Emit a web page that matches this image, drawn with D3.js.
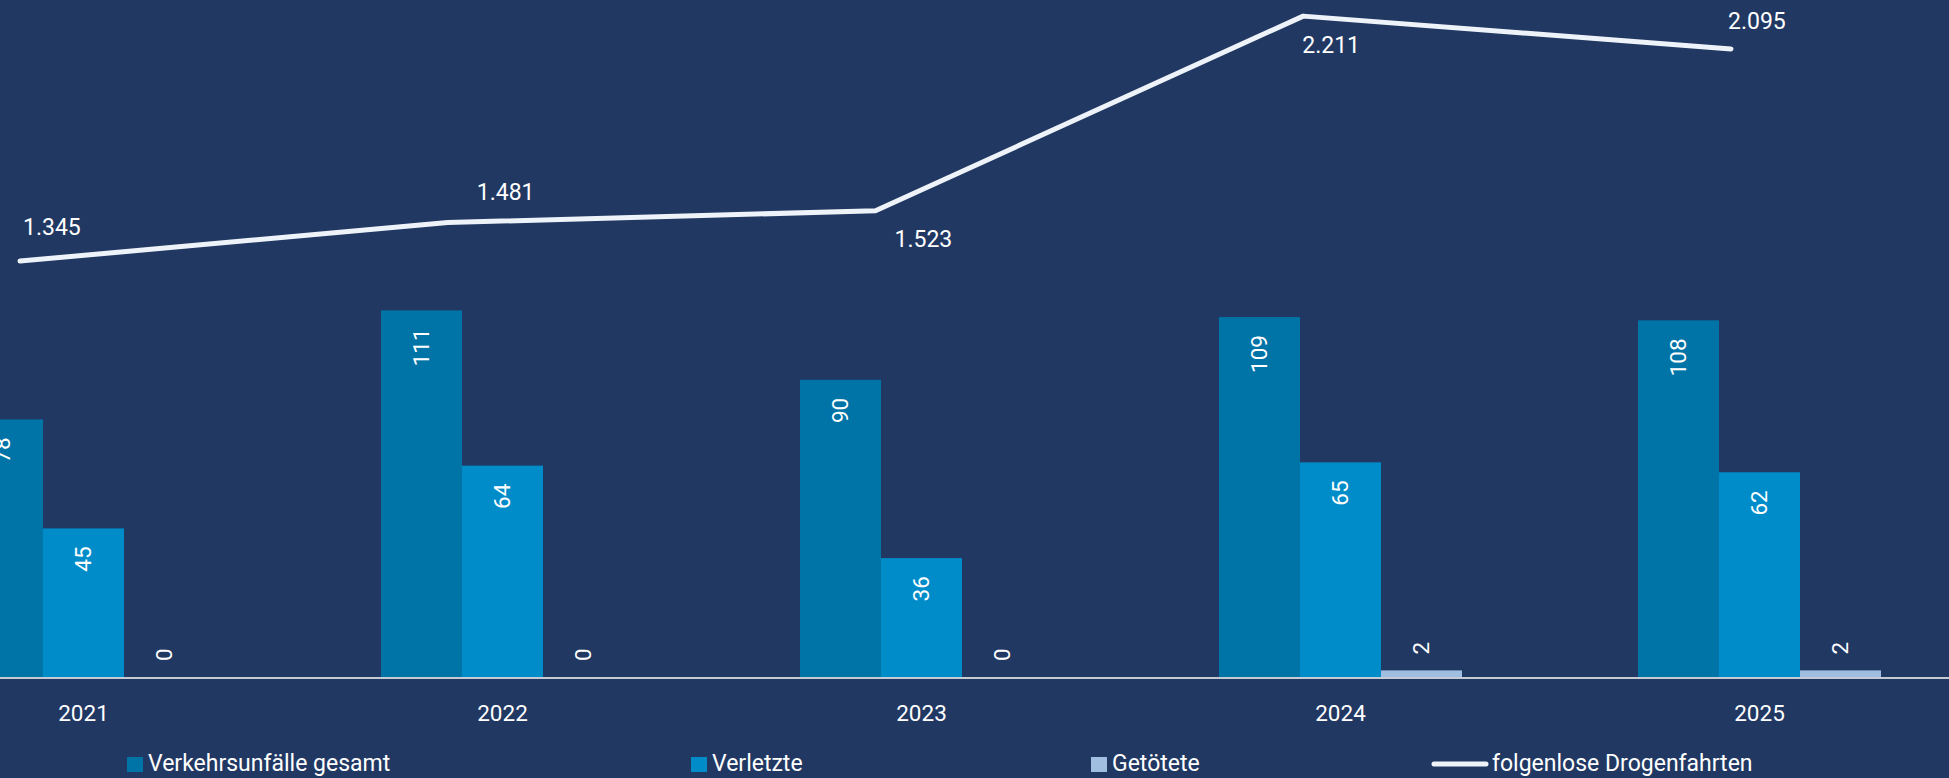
<!DOCTYPE html>
<html>
<head>
<meta charset="utf-8">
<script src="https://cdn.jsdelivr.net/npm/d3@7"></script>
<style>
  html, body { margin: 0; padding: 0; background: #213863; overflow: hidden; }
  svg text { font-family: Roboto, "Open Sans", sans-serif; fill: #fff; }
</style>
</head>
<body>
<div id="chart"></div>
<script>
// chart data
const years = ['2021', '2022', '2023', '2024', '2025'];
const seriesNames = ['Verkehrsunfälle gesamt', 'Verletzte', 'Getötete'];
const unfaelle = [78, 111, 90, 109, 108];
const verletzte = [45, 64, 36, 65, 62];
const getoetete = [0, 0, 0, 2, 2];
const drogenfahrten = [1345, 1481, 1523, 2211, 2095];
const lineName = 'folgenlose Drogenfahrten';

const colors = ['#0073a7', '#008bc9', '#a0bfe0'];
// label offsets for the line values (dx, dy)
const lineLabelOffset = [[3, -26], [29, -23], [19, 36], [-1, 37], [-3, -20]];

const W = 1949, H = 778;
const baseline = 677;

const svg = d3.select('#chart').append('svg')
  .attr('width', W)
  .attr('height', H);

svg.append('rect').attr('width', W).attr('height', H).attr('fill', '#213863');

const x0 = d3.scalePoint().domain(years).range([83.5, 1759.5]);
const x1 = d3.scaleBand().domain(seriesNames).range([-121.5, 121.5]);
const y = d3.scaleLinear().domain([0, 205]).range([baseline, 0]);

const xLine = d3.scalePoint().domain(years).range([20, 1731]);
const yLine = d3.scaleLinear().domain([0, 2268]).range([641.5, 0]);

const barData = years.map((yr, i) => ({
  year: yr,
  values: [unfaelle[i], verletzte[i], getoetete[i]].map((v, j) => ({ key: seriesNames[j], value: v, idx: j }))
}));

const groups = svg.selectAll('.group')
  .data(barData)
  .enter().append('g')
  .attr('class', 'group')
  .attr('transform', d => `translate(${x0(d.year)},0)`);

groups.selectAll('rect')
  .data(d => d.values)
  .enter().append('rect')
  .attr('x', d => x1(d.key))
  .attr('y', d => y(d.value))
  .attr('width', x1.bandwidth())
  .attr('height', d => baseline - y(d.value))
  .attr('fill', d => colors[d.idx]);

// value labels, rotated
groups.selectAll('.vlabel')
  .data(d => d.values)
  .enter().append('text')
  .attr('class', 'vlabel')
  .attr('transform', d => {
    const cx = x1(d.key) + x1.bandwidth() / 2;
    const inside = baseline - y(d.value) > 60;
    const ty = inside ? y(d.value) + 18 : y(d.value) - 16;
    return `translate(${cx},${ty}) rotate(-90)`;
  })
  .attr('text-anchor', d => (baseline - y(d.value) > 60) ? 'end' : 'start')
  .attr('dy', '0.35em')
  .attr('font-size', '22.5px')
  .text(d => d.value);

// baseline
svg.append('line')
  .attr('x1', 0).attr('x2', W)
  .attr('y1', baseline + 1).attr('y2', baseline + 1)
  .attr('stroke', '#c5cbd5')
  .attr('stroke-width', 2);

// x axis labels
svg.selectAll('.tick-label')
  .data(years)
  .enter().append('text')
  .attr('class', 'tick-label')
  .attr('x', d => x0(d))
  .attr('y', 721)
  .attr('text-anchor', 'middle')
  .attr('font-size', '22.5px')
  .text(d => d);

// line
const line = d3.line()
  .x((d, i) => xLine(years[i]))
  .y(d => yLine(d));

svg.append('path')
  .datum(drogenfahrten)
  .attr('d', line)
  .attr('fill', 'none')
  .attr('stroke', '#eef3f9')
  .attr('stroke-width', 5)
  .attr('stroke-linecap', 'round')
  .attr('stroke-linejoin', 'round');

svg.selectAll('.line-label')
  .data(drogenfahrten)
  .enter().append('text')
  .attr('class', 'line-label')
  .attr('x', (d, i) => xLine(years[i]) + lineLabelOffset[i][0])
  .attr('y', (d, i) => yLine(d) + lineLabelOffset[i][1])
  .attr('font-size', '23px')
  .text(d => d3.format(',')(d).replace(/,/g, '.'));

// legend
const legendX = [127, 691, 1091, 1432];
const legend = svg.append('g').attr('class', 'legend');
seriesNames.forEach((name, i) => {
  legend.append('rect')
    .attr('x', legendX[i])
    .attr('y', 757)
    .attr('width', 16)
    .attr('height', 15)
    .attr('fill', colors[i]);
  legend.append('text')
    .attr('x', legendX[i] + 21)
    .attr('y', 771)
    .attr('font-size', '23px')
    .text(name);
});
legend.append('line')
  .attr('x1', legendX[3] + 2).attr('x2', legendX[3] + 54)
  .attr('y1', 764).attr('y2', 764)
  .attr('stroke', '#eef3f9')
  .attr('stroke-width', 5)
  .attr('stroke-linecap', 'round');
legend.append('text')
  .attr('x', legendX[3] + 60)
  .attr('y', 771)
  .attr('font-size', '23px')
  .text(lineName);
</script>
</body>
</html>
